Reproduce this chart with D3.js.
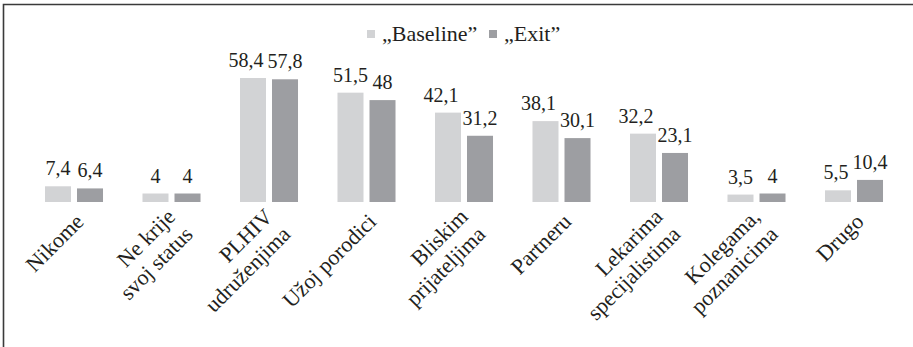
<!DOCTYPE html>
<html>
<head>
<meta charset="utf-8">
<script src="https://cdn.jsdelivr.net/npm/d3@7"></script>
<style>
  html, body { margin: 0; padding: 0; background: #fff; }
  svg { display: block; }
  text { font-family: "Liberation Serif", serif; fill: #231f20; }
</style>
</head>
<body>
<svg id="chart" width="913" height="347"></svg>
<script>
const categories = ["Nikome", "Ne krije\nsvoj status", "PLHIV\nudruženjima", "Užoj porodici",
  "Bliskim\nprijateljima", "Partneru", "Lekarima\nspecijalistima", "Kolegama,\npoznanicima", "Drugo"];
const baselineValues = [7.4, 4, 58.4, 51.5, 42.1, 38.1, 32.2, 3.5, 5.5];
const exitValues = [6.4, 4, 57.8, 48, 31.2, 30.1, 23.1, 4, 10.4];
const seriesNames = ["„Baseline”", "„Exit”"];
const seriesColors = ["#d2d3d5", "#9d9ea2"];

const svg = d3.select("#chart");
const W = 913, H = 347;
const baseY = 202;

// frame
svg.append("path")
  .attr("d", `M3.5,${H} V4.5 H${W}`)
  .attr("fill", "none").attr("stroke", "#3a3a3a").attr("stroke-width", 1.6);

const x0 = d3.scaleBand().domain(d3.range(categories.length))
  .range([25.25, 902.75]).paddingInner(0.405).paddingOuter(0.2025);
const x1 = d3.scaleBand().domain([0, 1]).range([0, x0.bandwidth()])
  .paddingInner(0.1875).paddingOuter(0);
const y = d3.scaleLinear().domain([0, 60]).range([baseY, baseY - 60 * 2.123]);

const data = categories.map((c, i) => ({ i, vals: [baselineValues[i], exitValues[i]] }));
const fmt = v => String(v).replace(".", ",");

const g = svg.selectAll("g.cat").data(data).join("g")
  .attr("class", "cat")
  .attr("transform", d => `translate(${x0(d.i)},0)`);

g.selectAll("rect").data(d => d.vals.map((v, s) => ({ v, s }))).join("rect")
  .attr("x", d => x1(d.s)).attr("width", x1.bandwidth())
  .attr("y", d => y(d.v)).attr("height", d => y(0) - y(d.v))
  .attr("fill", d => seriesColors[d.s]);

g.each(function () {
  const labels = d3.select(this).selectAll("text.val")
    .data(d => d.vals.map((v, s) => ({ v, s }))).join("text")
    .attr("class", "val")
    .attr("x", d => x1(d.s) + x1.bandwidth() / 2)
    .attr("y", d => y(d.v) - 11)
    .attr("text-anchor", "middle")
    .attr("font-size", 20)
    .text(d => fmt(d.v));
  // avoid overlap between the two labels of a group: push the left one left
  const nodes = labels.nodes();
  const b0 = nodes[0].getBBox(), b1 = nodes[1].getBBox();
  const overlap = (b0.x + b0.width) - (b1.x - 4);
  if (overlap > 0) {
    d3.select(nodes[0]).attr("x", +d3.select(nodes[0]).attr("x") - overlap);
  }
});

// category labels rotated -45
const lh = 25;
categories.forEach((c, i) => {
  const lines = c.split("\n");
  const cx = x0(i) + x0.bandwidth() / 2;
  const gx = cx + 11 - 6 * (lines.length - 1);
  const gy = 223 - 5 * (lines.length - 1);
  const t = svg.append("g").attr("transform", `translate(${gx},${gy}) rotate(-45)`)
    .append("text").attr("text-anchor", "end").attr("font-size", 22);
  lines.forEach((l, k) => t.append("tspan").attr("x", 0).attr("y", k * lh).text(l));
});

// legend
const legendX = [367, 489];
seriesNames.forEach((n, s) => {
  svg.append("rect").attr("x", legendX[s]).attr("y", 30).attr("width", 8).attr("height", 8)
    .attr("fill", seriesColors[s]);
  svg.append("text").attr("x", legendX[s] + 15).attr("y", 41)
    .attr("font-size", 22).text(n);
});
</script>
</body>
</html>
